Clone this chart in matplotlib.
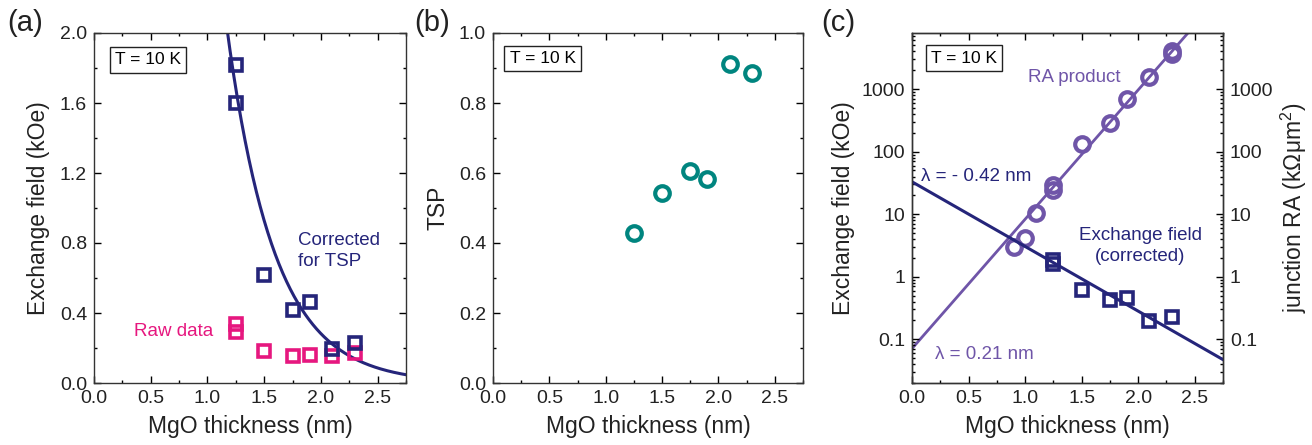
import numpy as np
import matplotlib
matplotlib.use("Agg")
import matplotlib.pyplot as plt
from matplotlib.ticker import MultipleLocator, FixedLocator, FixedFormatter, LogLocator, NullFormatter

plt.rcParams['font.family'] = ['Liberation Sans', 'DejaVu Sans']
plt.rcParams['mathtext.fontset'] = 'custom'
plt.rcParams['mathtext.rm'] = 'Liberation Sans'
plt.rcParams['mathtext.it'] = 'Liberation Sans:italic'

# colours
NAVY = '#25257a'
PINK = '#e6177f'
TEAL = '#00857f'
PURPLE = '#6f55a8'

# (a) exchange field vs MgO thickness
t_sq = [1.25, 1.25, 1.5, 1.75, 1.9, 2.1, 2.3]
h_corr = [1.82, 1.60, 0.62, 0.42, 0.465, 0.195, 0.23]
t_raw = [1.25, 1.25, 1.5, 1.75, 1.9, 2.1, 2.3]
h_raw = [0.34, 0.293, 0.185, 0.155, 0.158, 0.155, 0.173]

# (b) TSP
t_tsp = [1.25, 1.5, 1.75, 1.9, 2.1, 2.3]
tsp = [0.428, 0.542, 0.606, 0.582, 0.911, 0.885]

# (c) RA product
t_ra = [0.9, 1.0, 1.1, 1.25, 1.25, 1.5, 1.75, 1.9, 2.1, 2.3, 2.3]
ra = [3.0, 4.2, 10.3, 29, 24, 135, 290, 690, 1570, 4100, 3650]

# exponential fits (prefactor, decay length in nm)
h0, lam_h = 33.0, -0.42
ra0, lam_ra = 0.071, 0.21

fig = plt.figure(figsize=(13.12, 4.45), dpi=100)
W, H = 1312, 445
def place(l, r, t=33, b=383):
    return fig.add_axes([l / W, (H - b) / H, (r - l) / W, (b - t) / H])

axa = place(94, 406)
axb = place(493, 803)
axc = place(912, 1223)

def style(ax, right=True):
    ax.tick_params(which='both', direction='in', top=True, right=right, labelsize=14, width=1,
                   labelcolor='#222222')
    ax.tick_params(which='major', length=5, pad=5)
    ax.tick_params(which='minor', length=2.5)
    for s in ax.spines.values():
        s.set_linewidth(1)
        s.set_color('#333333')

box = dict(boxstyle='square,pad=0.3', fc='white', ec='#222222', lw=1)
lab_kw = dict(fontsize=16.5, color='#222222')

# ---- (a)
xf = np.linspace(1.1, 2.75, 200)
axa.plot(xf, h0 * np.exp(xf / lam_h), color=NAVY, lw=2.2, zorder=2)
axa.plot(t_raw, h_raw, 's', ms=8.5, mfc='none', mec=PINK, mew=2.6, zorder=3)
axa.plot(t_sq, h_corr, 's', ms=8.5, mfc='none', mec=NAVY, mew=2.6, zorder=4)
axa.set_xlim(0, 2.75)
axa.set_ylim(0, 2.0)
axa.xaxis.set_major_locator(MultipleLocator(0.5))
axa.xaxis.set_minor_locator(MultipleLocator(0.25))
axa.yaxis.set_major_locator(MultipleLocator(0.4))
axa.yaxis.set_minor_locator(MultipleLocator(0.2))
axa.xaxis.set_major_formatter(matplotlib.ticker.FormatStrFormatter('%.1f'))
axa.yaxis.set_major_formatter(matplotlib.ticker.FormatStrFormatter('%.1f'))
style(axa)
axa.set_xlabel('MgO thickness (nm)', labelpad=6, **lab_kw)
axa.set_ylabel('Exchange field (kOe)', labelpad=7, **lab_kw)
axa.text(0.173, 0.923, 'T = 10 K', transform=axa.transAxes, ha='center', va='center', fontsize=12.5, bbox=box)
axa.text(1.80, 0.865, 'Corrected\nfor TSP', color=NAVY, fontsize=13.5, ha='left', va='top', linespacing=1.35)
axa.text(0.35, 0.295, 'Raw data', color=PINK, fontsize=13.5, ha='left', va='center')

# ---- (b)
axb.plot(t_tsp, tsp, 'o', ms=10.5, mfc='none', mec=TEAL, mew=3)
axb.set_xlim(0, 2.75)
axb.set_ylim(0, 1.0)
axb.xaxis.set_major_locator(MultipleLocator(0.5))
axb.xaxis.set_minor_locator(MultipleLocator(0.25))
axb.yaxis.set_major_locator(MultipleLocator(0.2))
axb.yaxis.set_minor_locator(MultipleLocator(0.1))
axb.xaxis.set_major_formatter(matplotlib.ticker.FormatStrFormatter('%.1f'))
axb.yaxis.set_major_formatter(matplotlib.ticker.FormatStrFormatter('%.1f'))
style(axb)
axb.set_xlabel('MgO thickness (nm)', labelpad=6, **lab_kw)
axb.set_ylabel('TSP', labelpad=7, **lab_kw)
axb.text(0.16, 0.927, 'T = 10 K', transform=axb.transAxes, ha='center', va='center', fontsize=12.5, bbox=box)

# ---- (c)
ax2 = axc.twinx()
xl = np.linspace(0, 2.75, 100)
ax2.plot(xl, ra0 * np.exp(xl / lam_ra), color=PURPLE, lw=2.0, zorder=2)
ax2.plot(t_ra, ra, 'o', ms=10.5, mfc='none', mec=PURPLE, mew=3, zorder=3)
axc.plot(xl, h0 * np.exp(xl / lam_h), color=NAVY, lw=2.2, zorder=2)
axc.plot(t_sq, h_corr, 's', ms=8.5, mfc='none', mec=NAVY, mew=2.6, zorder=3)
axc.set_zorder(ax2.get_zorder() + 1)
axc.patch.set_visible(False)

dec = [0.1, 1, 10, 100, 1000]
dec_lab = ['0.1', '1', '10', '100', '1000']
for a in (axc, ax2):
    a.set_yscale('log')
    a.set_ylim(0.02, 7900)
    a.yaxis.set_major_locator(FixedLocator(dec))
    a.yaxis.set_major_formatter(FixedFormatter(dec_lab))
    a.yaxis.set_minor_locator(LogLocator(base=10, subs=np.arange(2, 10)))
    a.yaxis.set_minor_formatter(NullFormatter())
axc.set_xlim(0, 2.75)
axc.xaxis.set_major_locator(MultipleLocator(0.5))
axc.xaxis.set_minor_locator(MultipleLocator(0.25))
axc.xaxis.set_major_formatter(matplotlib.ticker.FormatStrFormatter('%.1f'))
style(axc, right=False)
style(ax2)
ax2.tick_params(which='both', left=False, right=True, top=True)
axc.set_xlabel('MgO thickness (nm)', labelpad=6, **lab_kw)
axc.set_ylabel('Exchange field (kOe)', labelpad=5, **lab_kw)
ax2.set_ylabel('junction RA (kΩμm$^2$)', labelpad=4, **lab_kw)
axc.text(0.167, 0.928, 'T = 10 K', transform=axc.transAxes, ha='center', va='center', fontsize=12.5, bbox=box)
axc.text(1.03, 1540, 'RA product', color=PURPLE, fontsize=13.5, ha='left', va='center')
axc.text(0.08, 40, 'λ = - 0.42 nm', color=NAVY, fontsize=13.5, ha='left', va='center')
axc.text(0.20, 0.057, 'λ = 0.21 nm', color=PURPLE, fontsize=13.5, ha='left', va='center')
axc.text(2.02, 3.1, 'Exchange field\n(corrected)', color=NAVY, fontsize=13.5, ha='center', va='center',
         multialignment='center', linespacing=1.35)

# panel labels
for x, s in ((7, '(a)'), (414, '(b)'), (821, '(c)')):
    fig.text(x / W, (H - 23) / H, s, fontsize=21, ha='left', va='center', color='#222222')

fig.savefig('out.png', dpi=100)
